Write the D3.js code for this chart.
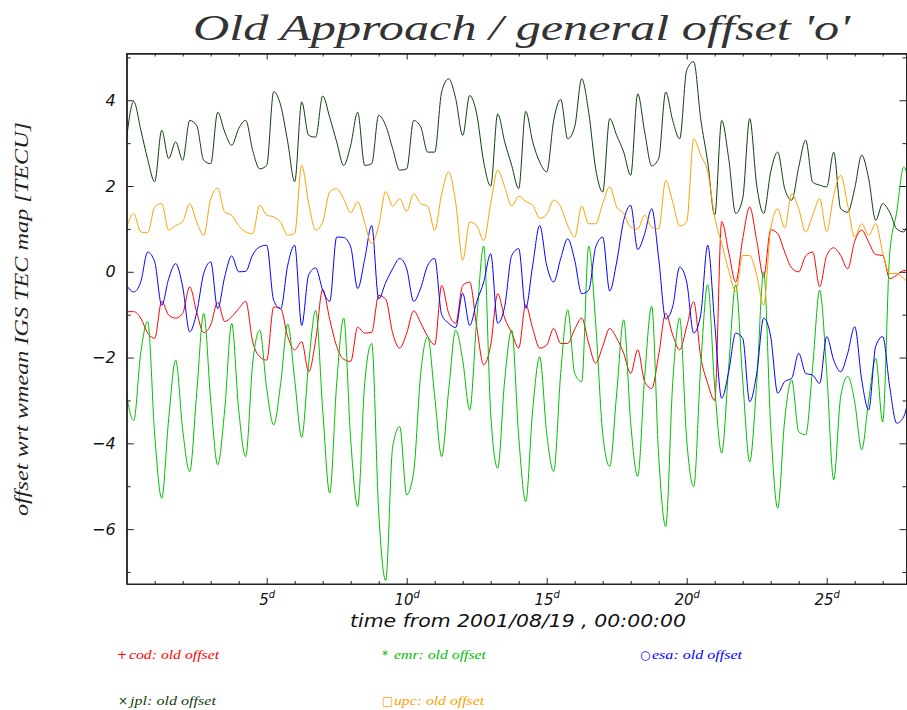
<!DOCTYPE html>
<html><head><meta charset="utf-8">
<script src="https://cdn.jsdelivr.net/npm/d3@7"></script>
<style>
html,body{margin:0;padding:0;background:#fff;}
svg{display:block;}
</style></head>
<body>
<svg id="chart" width="907" height="710"></svg>
<script>
// ---- data (days from 2001/08/19 00:00, step 0.25 d) ----
const tStep = 0.25;
const cod = [-0.93,-0.93,-1.08,-1.43,-1.55,-0.69,-1.01,-1.08,-0.97,-0.35,-0.94,-1.42,-1.24,-0.71,-1.16,-1.05,-0.86,-0.69,-1.63,-1.98,-2.06,-0.82,-0.86,-1.51,-1.82,-1.63,-2.33,-1.59,-0.41,-1.11,-1.74,-2.04,-2.09,-1.29,-1.43,-1.41,-0.55,-0.64,
 -1.43,-1.78,-1.43,-0.91,-1.19,-1.51,-1.7,-0.32,-0.97,-1.2,-0.32,-0.24,-1.28,-2.17,-1.71,-0.51,-1.08,-1.42,-1.78,-0.77,-1.32,-1.78,-1.71,-1.32,-1.67,-1.67,-1.34,-1.08,-1.67,-2.13,-1.74,-1.32,-1.55,-1.9,-2.37,-1.82,-2.56,
 -2.72,-1.94,-0.97,-1.47,-1.82,-1.28,-0.7,-1.98,-2.6,-3.0,1.17,0.46,-0.24,0.77,1.51,0.73,-0.12,0.98,0.89,0.46,0.09,0.0,0.37,0.46,-0.35,0.38,0.56,0.38,0.07,0.71,0.97,0.69,0.4,0.38,-0.16,-0.08,0.03,0.04];
const emr = [-2.91,-3.47,-1.9,-1.16,-3.8,-5.28,-3.42,-2.06,-3.69,-4.66,-2.83,-0.97,-2.99,-4.5,-3.22,-1.2,-3.22,-4.31,-2.13,-1.36,-2.72,-3.57,-2.6,-1.22,-2.52,-3.86,-2.13,-0.9,-3.22,-5.16,-2.6,-1.08,-3.92,-5.47,-2.6,-1.67,-5.6,-7.2,
 -4.08,-3.61,-5.2,-4.66,-2.37,-1.51,-2.91,-4.31,-2.76,-1.36,-2.06,-3.22,-1.12,0.6,-3.3,-4.58,-2.52,-1.36,-3.84,-5.36,-3.22,-1.98,-3.77,-4.66,-2.37,-0.89,-2.37,-2.56,0.6,-1.2,-3.77,-4.54,-2.83,-1.12,-3.53,-4.77,-2.44,
 -0.8,-4.31,-5.94,-2.6,-1.08,-3.92,-5.01,-2.21,-0.3,-2.68,-4.23,-2.21,-0.3,-2.52,-4.43,-2.6,0.0,-3.61,-5.51,-3.45,-2.52,-3.73,-3.8,-2.21,-0.43,-2.33,-4.85,-2.91,-2.44,-3.03,-4.15,-2.99,-2.02,-3.5,0.42,1.39,2.44,1.9];
const esa = [-0.32,-0.47,-0.24,0.46,0.23,-0.78,-0.16,0.19,-0.35,-1.4,-0.95,-0.04,0.23,-0.86,-0.12,0.37,0.0,0.01,0.4,0.58,0.62,-0.67,-0.86,0.15,0.62,-1.25,-0.07,0.09,-0.43,-0.69,0.81,0.8,0.58,-0.39,0.29,1.08,-0.63,-0.25,
 0.07,0.31,0.07,-0.69,-0.38,0.15,0.31,-1.0,-1.2,-1.3,-0.5,-1.25,-0.7,-0.24,0.42,-1.2,-0.81,0.38,0.54,-0.85,0.15,1.08,0.15,-0.24,0.31,0.77,0.27,-0.51,-0.43,0.58,0.81,-0.45,0.23,1.2,1.55,0.52,0.89,
 1.47,0.31,-1.1,-0.81,0.11,-0.24,-1.43,-1.0,0.62,-1.2,-2.95,-2.33,-1.43,-1.55,-3.03,-2.37,-1.08,-1.51,-2.83,-2.56,-2.48,-1.9,-2.37,-2.41,-2.6,-1.51,-2.06,-2.33,-1.9,-1.28,-2.52,-3.22,-1.74,-1.51,-2.68,-3.53,-3.38,-2.65];
const jpl = [3.14,3.97,3.32,2.62,2.1,3.3,2.64,3.03,2.6,3.53,3.41,2.6,2.52,3.72,3.26,2.95,3.34,3.53,2.83,2.4,2.48,4.2,3.88,3.03,2.1,3.96,3.18,3.14,4.1,3.6,3.03,2.48,2.95,3.72,2.48,2.52,3.65,3.41,
 2.87,2.37,2.4,3.53,3.38,2.79,2.79,4.2,4.5,4.04,3.18,4.11,3.68,2.56,2.0,3.68,3.03,2.48,1.94,3.74,3.03,2.56,2.33,3.53,4.02,3.1,3.38,4.5,3.72,2.4,1.86,3.57,3.18,2.79,2.25,4.15,3.26,
 2.47,2.64,4.19,3.53,3.1,4.7,4.9,3.57,2.56,1.32,3.53,2.64,1.36,1.71,3.57,2.02,1.36,2.33,2.79,1.94,1.67,2.44,3.07,2.09,2.02,1.98,2.79,1.47,1.39,1.94,2.72,2.17,1.2,1.59,1.39,1.0,0.93,1.4];
const upc = [1.04,1.36,0.93,0.91,1.51,1.59,0.97,1.08,1.17,1.59,1.16,0.85,1.7,1.95,1.39,1.32,1.08,0.93,0.89,1.55,1.32,1.28,1.15,0.85,0.9,2.48,1.59,0.97,1.16,1.86,1.94,1.7,1.38,1.63,1.14,0.66,1.08,1.87,
 1.53,1.7,1.41,1.82,1.59,1.53,0.97,1.82,2.33,1.61,0.27,1.16,1.08,0.73,1.59,2.37,1.98,1.53,1.76,1.64,1.55,1.25,1.34,1.67,1.51,1.08,0.81,1.53,1.12,1.12,1.59,1.98,1.51,1.36,1.04,1.0,1.32,
 1.04,1.0,2.13,1.63,1.07,1.16,3.1,2.72,2.33,1.28,0.66,0.03,-0.45,0.38,0.38,-0.08,-0.78,1.0,1.47,1.02,1.82,1.47,0.93,1.32,1.7,0.93,1.78,2.25,1.55,0.81,1.12,0.85,1.12,0.46,-0.04,-0.04,-0.16,-0.3];

const seriesNames = ["cod","emr","esa","jpl","upc"];
const seriesData = [cod, emr, esa, jpl, upc];
const seriesColors = ["#ff0000","#00c000","#0000ff","#0f3f0f","#ffa000"];
const legendSymbols = ["+","*","\u25CB","\u00D7","\u25A1"];
const legendText = ["cod: old offset","emr: old offset","esa: old offset","jpl: old offset","upc: old offset"];

const xMajorTicks = [5,10,15,20,25];
const yMajorTicks = [-6,-4,-2,0,2,4];
const xDomain = [0, 27.85];
const yDomain = [-7.28, 5.09];

const titleText = "Old Approach / general offset 'o'";
const xLabel = "time from 2001/08/19 , 00:00:00";
const yLabel = "offset wrt wmean IGS TEC map [TECU]";

// ---- layout ----
const L = 126.7, R = 906.5, T = 53.5, B = 584;
const svg = d3.select("#chart");
const x = d3.scaleLinear().domain(xDomain).range([L, R]);
const y = d3.scaleLinear().domain(yDomain).range([B, T]);

svg.append("defs").append("clipPath").attr("id","clip")
  .append("rect").attr("x",L).attr("y",T).attr("width",R-L).attr("height",B-T);

// lines
const line = d3.line().x((d,i)=>x(i*tStep)).y(d=>y(d)).curve(d3.curveMonotoneX);
const g = svg.append("g").attr("clip-path","url(#clip)");
seriesData.forEach((s,k)=>{
  g.append("path").datum(s).attr("d",line)
    .attr("fill","none").attr("stroke",seriesColors[k]).attr("stroke-width",1)
    .attr("stroke-linejoin","round");
});

// axes
const axisColor = "#222";
const xMinor = d3.range(1, 28).filter(v=>v<=xDomain[1] && !xMajorTicks.includes(v));
const yMinor = d3.range(-7, 6).filter(v=>!yMajorTicks.includes(v));

function styleAxis(sel){
  sel.select(".domain").attr("stroke",axisColor);
  sel.selectAll(".tick line").attr("stroke",axisColor);
}
// bottom
svg.append("g").attr("transform",`translate(0,${B})`)
  .call(d3.axisBottom(x).tickValues(xMinor).tickSizeInner(-3).tickSizeOuter(0).tickFormat(""))
  .call(styleAxis);
const xb = svg.append("g").attr("transform",`translate(0,${B})`)
  .call(d3.axisBottom(x).tickValues(xMajorTicks).tickSizeInner(-6).tickSizeOuter(0))
  .call(styleAxis);
xb.selectAll(".tick text").each(function(d){
  const t = d3.select(this);
  t.text(null).attr("y",21).attr("dy",null)
   .attr("font-family","'DejaVu Sans', sans-serif").attr("font-style","italic")
   .attr("font-size",15).attr("fill","#111");
  t.append("tspan").text(d);
  t.append("tspan").text("d").attr("dy",-7).attr("font-size",10);
});
// top
svg.append("g").attr("transform",`translate(0,${T})`)
  .call(d3.axisTop(x).tickValues(xMinor).tickSizeInner(-3).tickSizeOuter(0).tickFormat(""))
  .call(styleAxis);
svg.append("g").attr("transform",`translate(0,${T})`)
  .call(d3.axisTop(x).tickValues(xMajorTicks).tickSizeInner(-6).tickSizeOuter(0).tickFormat(""))
  .call(styleAxis);
// left
svg.append("g").attr("transform",`translate(${L},0)`)
  .call(d3.axisLeft(y).tickValues(yMinor).tickSizeInner(-4).tickSizeOuter(0).tickFormat(""))
  .call(styleAxis);
const yl = svg.append("g").attr("transform",`translate(${L},0)`)
  .call(d3.axisLeft(y).tickValues(yMajorTicks).tickSizeInner(-7).tickSizeOuter(0)
        .tickPadding(11).tickFormat(d=> d<0 ? "\u2212"+Math.abs(d) : String(d)))
  .call(styleAxis);
yl.selectAll(".tick text")
  .attr("font-family","'DejaVu Sans', sans-serif").attr("font-style","italic")
  .attr("font-size",16).attr("fill","#111");
// right
svg.append("g").attr("transform",`translate(${R},0)`)
  .call(d3.axisRight(y).tickValues(yMinor).tickSizeInner(-4).tickSizeOuter(0).tickFormat(""))
  .call(styleAxis);
svg.append("g").attr("transform",`translate(${R},0)`)
  .call(d3.axisRight(y).tickValues(yMajorTicks).tickSizeInner(-7).tickSizeOuter(0).tickFormat(""))
  .call(styleAxis);
svg.append("rect").attr("x",L).attr("y",T).attr("width",R-L).attr("height",B-T)
  .attr("fill","none").attr("stroke",axisColor).attr("stroke-width",1);

// title
svg.append("text").attr("x",193).attr("y",40).text(titleText)
  .attr("font-family","'Liberation Serif', serif").attr("font-style","italic")
  .attr("font-size",36).attr("fill","#333")
  .attr("textLength",657).attr("lengthAdjust","spacingAndGlyphs");

// x label
svg.append("text").attr("x",350).attr("y",627).text(xLabel)
  .attr("font-family","'DejaVu Sans', sans-serif").attr("font-style","italic")
  .attr("font-size",18).attr("fill","#111")
  .attr("textLength",336).attr("lengthAdjust","spacingAndGlyphs");

// y label
svg.append("text").attr("transform","translate(28,516) rotate(-90)").text(yLabel)
  .attr("font-family","'Liberation Serif', serif").attr("font-style","italic")
  .attr("font-size",19).attr("fill","#222")
  .attr("textLength",394).attr("lengthAdjust","spacingAndGlyphs");

// legend
const legPos = [[117,659],[382,659],[640,659],[118,705],[382,705]];
const legTextLen = [90,92,90,86,90];
seriesNames.forEach((n,k)=>{
  const gg = svg.append("g").attr("transform",`translate(${legPos[k][0]},${legPos[k][1]})`);
  gg.append("text").attr("x",0).attr("y",0).text(legendSymbols[k])
    .attr("font-family","'DejaVu Sans', sans-serif").attr("font-size",12).attr("fill",seriesColors[k]);
  gg.append("text").attr("x",12).attr("y",0).text(legendText[k])
    .attr("font-family","'Liberation Serif', serif").attr("font-style","italic")
    .attr("font-size",12.5).attr("fill",seriesColors[k])
    .attr("textLength",legTextLen[k]).attr("lengthAdjust","spacingAndGlyphs");
});
</script>
</body></html>
